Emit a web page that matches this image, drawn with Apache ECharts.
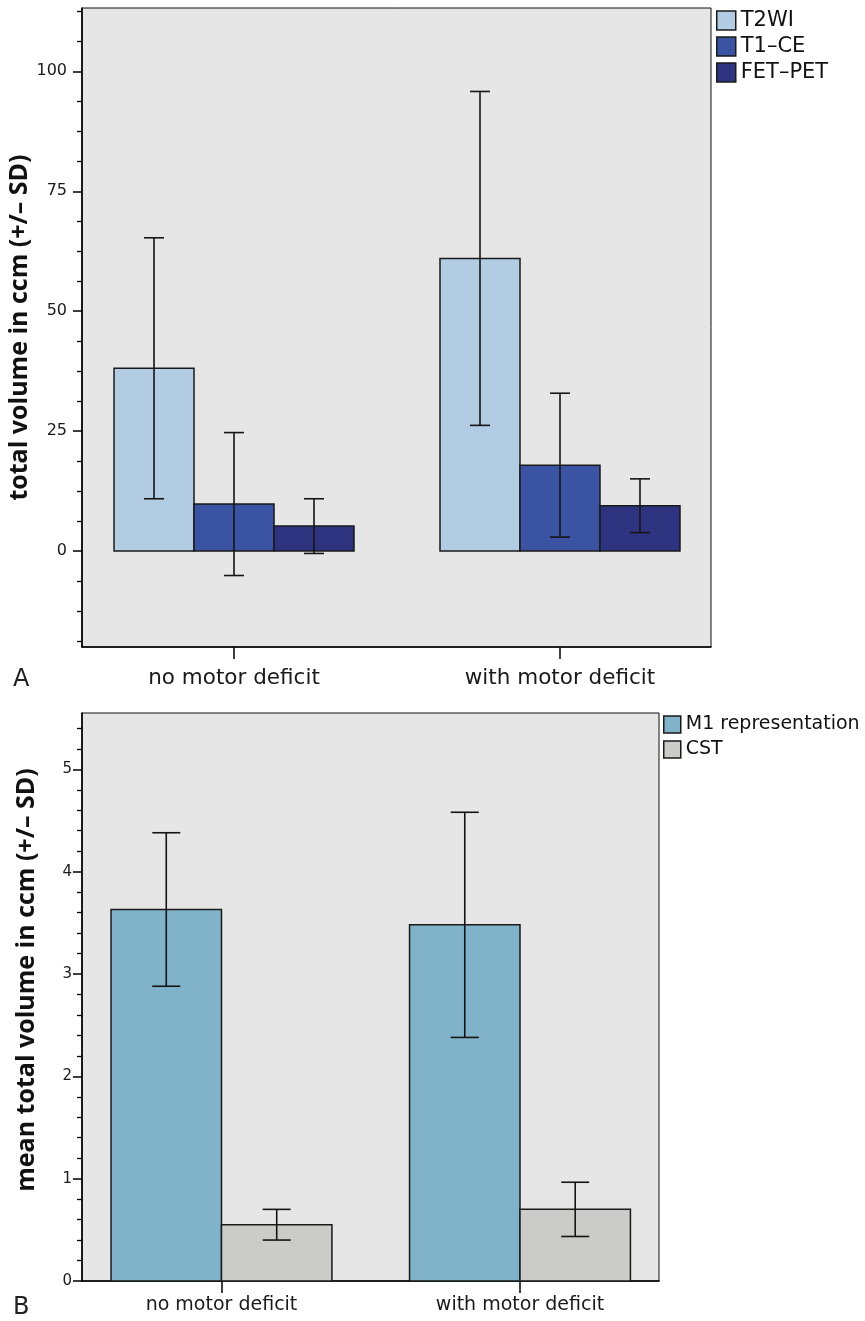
<!DOCTYPE html>
<html>
<head>
<meta charset="utf-8">
<script src="https://cdn.jsdelivr.net/npm/echarts@6/dist/echarts.min.js"></script>
<style>
html,body{margin:0;padding:0;background:#fff;}
#chart{width:865px;height:1321px;}
</style>
</head>
<body>
<div id="chart"></div>
<script>
// ---- data ----
const categories = ['no motor deficit', 'with motor deficit'];

const namesA = ['T2WI', 'T1–CE', 'FET–PET'];
const t2wiMean = [38.1, 61.0];
const t2wiSD   = [27.2, 34.8];
const t1ceMean = [9.8, 17.9];
const t1ceSD   = [14.9, 15.0];
const fetMean  = [5.2, 9.45];
const fetSD    = [5.7, 5.6];

const namesB = ['M1 representation', 'CST'];
const m1Mean  = [3.63, 3.48];
const m1SD    = [0.75, 1.10];
const cstMean = [0.55, 0.70];
const cstSD   = [0.15, 0.265];

const yTicksA  = [0, 25, 50, 75, 100];
const yMinorA  = [-18.75, -12.5, -6.25, 6.25, 12.5, 18.75, 31.25, 37.5, 43.75, 56.25, 62.5, 68.75, 81.25, 87.5, 93.75, 106.25, 112.5];
const yTicksB  = [0, 1, 2, 3, 4, 5];
const yMinorB  = [0.2, 0.4, 0.6, 0.8, 1.2, 1.4, 1.6, 1.8, 2.2, 2.4, 2.6, 2.8, 3.2, 3.4, 3.6, 3.8, 4.2, 4.4, 4.6, 4.8, 5.2, 5.4];
const catPositions = [0, 1];

// ---- helpers ----
function rows(means, sds) {
  return means.map((m, i) => [catPositions[i], m, sds[i]]);
}
function makeRender(k, n, w, capHalf) {
  return function (params, api) {
    const cat = api.value(0), v = api.value(1), sd = api.value(2);
    const x0 = cat + (k - n / 2) * w;
    const pTop = api.coord([x0, v]);
    const pBot = api.coord([x0 + w, 0]);
    const xc = x0 + w / 2;
    const eT = api.coord([xc, v + sd]);
    const eB = api.coord([xc, v - sd]);
    const lineStyle = { stroke: '#151515', lineWidth: 1.6 };
    return {
      type: 'group',
      children: [
        { type: 'rect',
          shape: { x: pTop[0], y: Math.min(pTop[1], pBot[1]), width: pBot[0] - pTop[0], height: Math.abs(pBot[1] - pTop[1]) },
          style: { fill: api.visual('color'), stroke: '#1a1a1a', lineWidth: 1.5 } },
        { type: 'line', shape: { x1: eT[0], y1: eT[1], x2: eB[0], y2: eB[1] }, style: lineStyle },
        { type: 'line', shape: { x1: eT[0] - capHalf, y1: eT[1], x2: eT[0] + capHalf, y2: eT[1] }, style: lineStyle },
        { type: 'line', shape: { x1: eB[0] - capHalf, y1: eB[1], x2: eB[0] + capHalf, y2: eB[1] }, style: lineStyle }
      ]
    };
  };
}

const FONT = 'DejaVu Sans';
const colorsA = ['#b2cce4', '#3b53a3', '#2e337f'];
const colorsB = ['#80b2ca', '#cbcbc9'];
const wA = 0.2454, wB = 0.370;

const seriesA = [[t2wiMean, t2wiSD], [t1ceMean, t1ceSD], [fetMean, fetSD]].map((d, k) => ({
  name: namesA[k], type: 'custom', xAxisIndex: 0, yAxisIndex: 0,
  itemStyle: { color: colorsA[k], borderColor: '#1a1a1a', borderWidth: 1.5 },
  renderItem: makeRender(k, 3, wA, 10),
  data: rows(d[0], d[1])
}));
const seriesB = [[m1Mean, m1SD], [cstMean, cstSD]].map((d, k) => ({
  name: namesB[k], type: 'custom', xAxisIndex: 1, yAxisIndex: 2,
  itemStyle: { color: colorsB[k], borderColor: '#1a1a1a', borderWidth: 1.5 },
  renderItem: makeRender(k, 2, wB, 14),
  data: rows(d[0], d[1])
}));

function xAxisCfg(grid, min, max, fs, margin) {
  return {
    gridIndex: grid, type: 'value', min: min, max: max,
    axisLine: { onZero: false, lineStyle: { color: '#000', width: 1.6 } },
    splitLine: { show: false },
    axisTick: { customValues: catPositions, length: 12, lineStyle: { color: '#000', width: 1.5 } },
    axisLabel: { customValues: catPositions, formatter: v => categories[Math.round(v)], fontSize: fs, margin: margin, color: '#1a1a1a', fontFamily: FONT }
  };
}
function yMajor(grid, min, max, ticks, fs, margin, name, nameFs, nameGap, namePad) {
  return {
    gridIndex: grid, type: 'value', min: min, max: max, position: 'left',
    name: name, nameLocation: 'middle', nameGap: nameGap, nameRotate: 90, nameMoveOverlap: false,
    nameTextStyle: { fontFamily: 'Open Sans', fontWeight: 'bold', fontSize: nameFs, color: '#111', padding: namePad },
    axisLine: { onZero: false, lineStyle: { color: '#000', width: 1.6 } },
    splitLine: { show: false },
    axisTick: { customValues: ticks, length: 9, lineStyle: { color: '#000', width: 1.5 } },
    axisLabel: { customValues: ticks, fontSize: fs, margin: margin, color: '#1a1a1a', fontFamily: FONT }
  };
}
function yMinor(grid, min, max, ticks) {
  return {
    gridIndex: grid, type: 'value', min: min, max: max, position: 'left',
    axisLine: { show: false, onZero: false },
    splitLine: { show: false },
    axisTick: { customValues: ticks, length: 5, lineStyle: { color: '#000', width: 1.3 } },
    axisLabel: { show: false }
  };
}

const option = {
  backgroundColor: '#ffffff',
  animation: false,
  title: [
    { text: 'A', left: 8, top: 663, textStyle: { fontFamily: FONT, fontSize: 24, fontWeight: 'normal', color: '#222' } },
    { text: 'B', left: 8, top: 1291, textStyle: { fontFamily: FONT, fontSize: 24, fontWeight: 'normal', color: '#222' } }
  ],
  legend: [
    { data: namesA, orient: 'vertical', left: 716, top: 10, padding: 0, itemGap: 5, itemWidth: 19, itemHeight: 19, icon: 'rect',
      itemStyle: { borderColor: '#1a1a1a', borderWidth: 1.5 },
      textStyle: { fontFamily: FONT, fontSize: 21, color: '#111' } },
    { data: namesB, orient: 'vertical', left: 663, top: 715, padding: 0, itemGap: 6, itemWidth: 17, itemHeight: 17, icon: 'rect',
      itemStyle: { borderColor: '#1a1a1a', borderWidth: 1.5 },
      textStyle: { fontFamily: FONT, fontSize: 19, color: '#111' } }
  ],
  grid: [
    { left: 82, top: 8, width: 629, height: 639, show: true, outerBoundsMode: 'none', containLabel: false,
      backgroundColor: '#e6e6e6', borderColor: '#111', borderWidth: 1 },
    { left: 82, top: 713, width: 577, height: 568, show: true, outerBoundsMode: 'none', containLabel: false,
      backgroundColor: '#e6e6e6', borderColor: '#111', borderWidth: 1 }
  ],
  xAxis: [
    xAxisCfg(0, -0.4663, 1.4632, 21.5, 20),
    xAxisCfg(1, -0.4673, 1.4657, 19, 15)
  ],
  yAxis: [
    yMajor(0, -20, 113.2, yTicksA, 16, 15, 'total volume in ccm (+/– SD)', 25, 50, [0, 0, 0, 0]),
    yMinor(0, -20, 113.2, yMinorA),
    yMajor(1, 0, 5.55, yTicksB, 15, 10, 'mean total volume in ccm (+/– SD)', 25, 43, [0, 0, 0, 34]),
    yMinor(1, 0, 5.55, yMinorB)
  ],
  series: seriesA.concat(seriesB)
};

const chart = echarts.init(document.getElementById('chart'), null, { renderer: 'canvas' });
chart.setOption(option);
</script>
</body>
</html>
